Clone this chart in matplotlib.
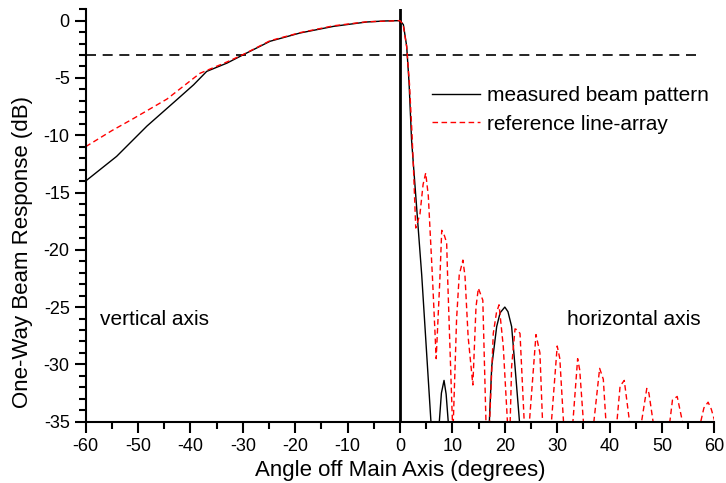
import matplotlib.pyplot as plt
from matplotlib.ticker import MultipleLocator

plt.rcParams['font.family'] = ['Liberation Sans', 'DejaVu Sans']
plt.rcParams['axes.unicode_minus'] = False

# measured beam pattern (vertical axis for x<0, horizontal axis for x>0)
meas_angle = [-60, -54.1, -48.3, -42.6, -39.4, -36.9, -33, -29.9, -24.8, -19.1,
              -12.7, -6.4, -3, 0, 0.64, 1.27, 1.72, 2.2, 4.14, 5.9, 6.7, 7.5,
              7.9, 8.4, 8.8, 9.2, 13, 17.05, 17.5, 18.45, 19.1, 20.0, 20.6,
              21.3, 21.95, 22.8, 26]
meas_db = [-14, -11.85, -9.2, -6.9, -5.6, -4.43, -3.7, -2.97, -1.8, -1.08,
           -0.5, -0.12, -0.03, 0, -0.35, -2.24, -5.4, -10.4, -22.2, -35, -42, -35,
           -32.5, -31.4, -32.6, -35, -45, -35, -30.2, -26.7, -25.5, -25.0, -25.4,
           -26.7, -30.2, -35, -45]

# reference line-array
ref_angle = [-60, -55, -50.9, -44.5, -38.2, -33, -29.9, -24.8, -19.1, -12.7, -6.4, 0,
             0.6, 1.27, 1.8, 2.3, 2.6, 3.0, 3.8, 4.4, 4.9, 5.4, 6.2, 6.9,
             7.6, 7.96, 8.5, 8.9, 9.1, 10.0, 10.1,
             10.8, 11.3, 12.0, 12.4, 13.0, 13.9,
             14.5, 14.95, 15.8, 16.4, 16.7,
             17.1, 17.8, 18.4, 18.9, 19.7, 20.5, 20.85,
             21.3, 21.95, 22.4, 22.9, 23.7, 24.2,
             24.7, 25.95, 26.7, 27.2, 28.0,
             28.9, 30.0, 30.5, 31.2, 32.1,
             33.0, 33.9, 34.3, 35.0, 36.0,
             37.0, 38.1, 38.8, 39.3, 40.3,
             41.4, 42.0, 42.8, 43.8, 45.0,
             46.1, 47.1, 47.5, 48.3, 50.0,
             51.5, 52.0, 52.9, 53.9, 55.5,
             57.4, 58.0, 58.8, 59.4, 60.1]
ref_db = [-11.0, -9.6, -8.55, -6.85, -4.6, -3.6, -2.95, -1.75, -1.05, -0.45, -0.1, 0,
          -0.35, -2.3, -5.5, -10.0, -13.3, -18.1, -16.9, -14.3, -13.3, -15.3, -22.5, -29.5,
          -22.6, -18.3, -18.8, -19.4, -22.6, -35, -36,
          -26, -22.2, -20.9, -22.3, -27.6, -31.8,
          -25, -23.35, -24.4, -35, -40,
          -35, -27.3, -25.5, -24.8, -28.4, -35, -38,
          -30.2, -26.9, -27.0, -27.3, -35, -40,
          -35, -27.4, -29.0, -35, -40,
          -35, -28.4, -29.5, -35, -40,
          -35, -29.5, -30.5, -35, -40,
          -35, -30.35, -31.3, -35, -40,
          -35, -31.9, -31.4, -35, -40,
          -35, -32.1, -32.5, -35, -40,
          -35, -33.1, -32.8, -35, -40,
          -35, -33.8, -33.3, -33.9, -35]

half_power_x = [-60, 57]
half_power_db = [-3, -3]

fig = plt.figure(figsize=(7.26, 4.83), dpi=100)
ax = fig.add_axes([0.118, 0.127, 0.866, 0.854])

ax.plot(half_power_x, half_power_db, color='black', lw=1.2, dashes=(6, 4))
ax.axvline(0, color='black', lw=2)
ax.plot(meas_angle, meas_db, color='black', lw=1, label='measured beam pattern')
ax.plot(ref_angle, ref_db, color='red', lw=1, dashes=(4, 2.5),
        label='reference line-array')

ax.set_xlim(-60, 60)
ax.set_ylim(-35, 1)
ax.xaxis.set_major_locator(MultipleLocator(10))
ax.xaxis.set_minor_locator(MultipleLocator(5))
ax.yaxis.set_major_locator(MultipleLocator(5))
ax.yaxis.set_minor_locator(MultipleLocator(1))
ax.tick_params(which='both', direction='out', width=1.5, labelsize=13)
ax.tick_params(which='major', length=8)
ax.tick_params(which='minor', length=5)
for s in ['top', 'right']:
    ax.spines[s].set_visible(False)
for s in ['left', 'bottom']:
    ax.spines[s].set_linewidth(1.5)

ax.set_xlabel('Angle off Main Axis (degrees)', fontsize=16, labelpad=4)
ax.set_ylabel('One-Way Beam Response (dB)', fontsize=16)
ax.yaxis.set_label_coords(-0.083, 0.411)

ax.text(-57.25, -26.55, 'vertical axis', fontsize=15)
ax.text(31.9, -26.55, 'horizontal axis', fontsize=15)

ax.legend(loc='upper left', bbox_to_anchor=(0.551, 0.813), frameon=False,
          fontsize=15, handlelength=2.3, handletextpad=0.35, borderpad=0,
          borderaxespad=0, labelspacing=0.45)

plt.savefig('out.png', dpi=100)
plt.close()
